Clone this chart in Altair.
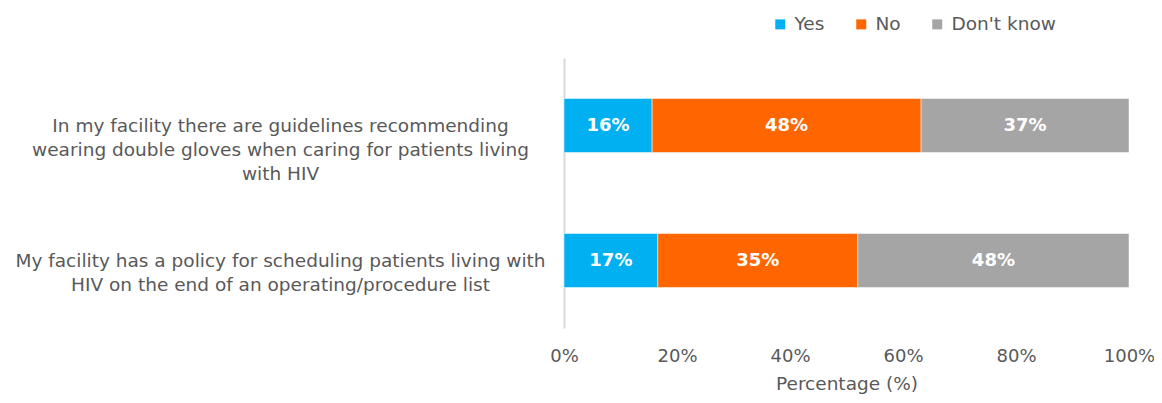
import altair as alt
import pandas as pd

questions = [
    "In my facility there are guidelines recommending|wearing double gloves when caring for patients living|with HIV",
    "My facility has a policy for scheduling patients living with|HIV on the end of an operating/procedure list",
]
responses = ["Yes", "No", "Don't know"]
yes_vals = [15.6, 16.6]
no_vals = [47.6, 35.4]
dk_vals = [36.8, 48.0]
colors = ["#00B0F0", "#FF6600", "#A5A5A5"]
x_ticks = [0, 20, 40, 60, 80, 100]

rows = []
for qi, q in enumerate(questions):
    for ri, (r, vals) in enumerate(zip(responses, [yes_vals, no_vals, dk_vals])):
        rows.append({"question": q, "response": r, "value": vals[qi], "order": ri})
df = pd.DataFrame(rows)

FONT = "DejaVu Sans"
GREY = "#595959"
FS = 18.5

base = alt.Chart(df).transform_stack(
    stack="value", groupby=["question"], as_=["x0", "x1"], sort=[alt.SortField("order")]
).transform_calculate(mid="(datum.x0 + datum.x1) / 2")

y_enc = alt.Y(
    "question:N",
    sort=questions,
    title=None,
    scale=alt.Scale(paddingInner=0.6, paddingOuter=0.3),
    axis=alt.Axis(
        labelExpr="split(datum.label, '|')",
        labelAlign="center",
        labelPadding=284,
        labelLimit=700,
        labelFont=FONT,
        labelFontSize=FS,
        labelLineHeight=24,
        labelColor=GREY,
        ticks=False,
        domainColor="#D9D9D9",
        domainWidth=2,
    ),
)

bars = base.mark_bar(stroke="white", strokeWidth=0.5).encode(
    y=y_enc,
    x=alt.X(
        "x0:Q",
        scale=alt.Scale(domain=[0, 100], nice=False),
        axis=alt.Axis(
            values=x_ticks,
            labelExpr="datum.value + '%'",
            labelFlush=False,
            title="Percentage (%)",
            titleFont=FONT,
            titleFontSize=FS,
            titleFontWeight="normal",
            titleColor=GREY,
            titlePadding=9,
            labelFont=FONT,
            labelFontSize=18,
            labelColor=GREY,
            labelPadding=19,
            domain=False,
            ticks=False,
            grid=False,
        ),
    ),
    x2="x1:Q",
    color=alt.Color(
        "response:N",
        sort=responses,
        scale=alt.Scale(domain=responses, range=colors),
        legend=alt.Legend(
            title=None,
            orient="none",
            direction="horizontal",
            legendX=207,
            legendY=-43,
            symbolType="square",
            symbolSize=100,
            symbolStrokeWidth=0,
            labelFont=FONT,
            labelFontSize=FS,
            labelColor=GREY,
            columnPadding=27,
            labelOffset=5,
        ),
    ),
)

texts = base.mark_text(
    color="white", font=FONT, fontSize=18, fontWeight="bold"
).transform_calculate(lbl="format(datum.value, '.0f') + '%'").encode(
    y=alt.Y("question:N", sort=questions),
    x=alt.X("mid:Q"),
    text="lbl:N",
)

chart = (
    alt.layer(bars, texts)
    .properties(
        width=565,
        height=270,
        padding={"left": 556, "top": 50, "right": 25, "bottom": 75},
        autosize=alt.AutoSizeParams(type="none"),
    )
    .configure_view(stroke=None)
)

chart.save("out.html", embed_options={"renderer": "svg", "actions": False})
